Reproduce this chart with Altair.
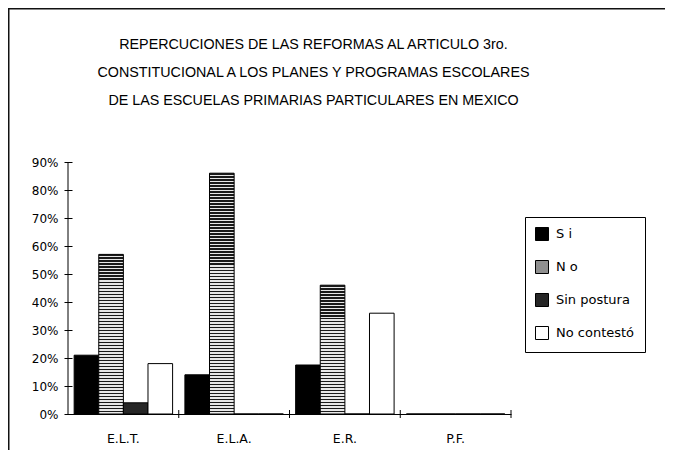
import altair as alt
import pandas as pd

categories = ["E.L.T.", "E.L.A.", "E.R.", "P.F."]
series = ["S i", "N o", "Sin postura", "No contestó"]
si = [21, 14, 17.5, 0]
no = [57, 86, 46, 0]
sin_postura = [4, 0, 0, 0]
no_contesto = [18, 0, 36, 0]
y_ticks = [0, 10, 20, 30, 40, 50, 60, 70, 80, 90]
title_lines = [
    "REPERCUCIONES DE LAS REFORMAS AL ARTICULO 3ro.",
    "CONSTITUCIONAL A LOS PLANES Y PROGRAMAS ESCOLARES",
    "DE LAS ESCUELAS PRIMARIAS PARTICULARES EN MEXICO",
]

rows = []
for s, vals in zip(series, [si, no, sin_postura, no_contesto]):
    for c, v in zip(categories, vals):
        rows.append({"cat": c, "serie": s, "valor": v})
df = pd.DataFrame(rows)
cats_df = pd.DataFrame({"cat": categories})

W, H = 443, 252
PL, PT = 60, 154
FONT = "DejaVu Sans"


def stripes(n, dark="#1a1a1a", light="#e8e8e8", frac=0.45):
    stops = []
    p = 1.0 / n
    for i in range(n):
        a = i * p
        b = a + frac * p
        stops += [
            {"offset": round(a, 5), "color": dark},
            {"offset": round(b, 5), "color": dark},
            {"offset": round(b, 5), "color": light},
            {"offset": round(a + p, 5), "color": light},
        ]
    return {"gradient": "linear", "x1": 0, "y1": 0, "x2": 0, "y2": 1, "stops": stops}


conditions = []
for c, v in zip(categories, no):
    if v > 0:
        n = max(3, int(round(v * (H / 90.0) / 3.0)))
        conditions.append({"test": f"datum.serie == 'N o' && datum.cat == '{c}'", "value": stripes(n)})

yscale = alt.Scale(domain=[0, 90], nice=False)
xscale = alt.Scale(domain=categories, paddingInner=0, paddingOuter=0)

x_axis = alt.Axis(title=None, ticks=False, domain=True, domainColor="#000",
                  labelAngle=0, labelFont=FONT, labelFontSize=12.5, labelColor="#000",
                  labelPadding=18)
y_axis = alt.Axis(title=None, values=y_ticks, domain=False, tickSize=8, offset=-4,
                  tickColor="#000", labelExpr="datum.value + '%'", labelOverlap=False,
                  labelFont=FONT, labelFontSize=12, labelColor="#000",
                  labelPadding=6, grid=False)

one = "datum.cat == 'E.L.T.'"

border_left = alt.Chart(cats_df).mark_rule(color="#111", strokeWidth=1.5).encode(
    x=alt.value(-59.25), y=alt.value(-154), y2=alt.value(400)
).transform_filter(one)
border_top = alt.Chart(cats_df).mark_rule(color="#111", strokeWidth=1.5).encode(
    x=alt.value(-60), x2=alt.value(650), y=alt.value(-153.25)
).transform_filter(one)

title = alt.Chart(cats_df).mark_text(
    font="Liberation Sans", fontSize=14.3, color="#000", lineHeight=28,
    align="center", baseline="middle"
).encode(
    x=alt.value(W / 2 + 24), y=alt.value(-117), text=alt.value(title_lines)
).transform_filter(one)

fill_enc = {
    "condition": conditions,
    "field": "serie",
    "type": "nominal",
    "scale": {"domain": series, "range": ["#000000", "#8f8f8f", "#262626", "#ffffff"]},
    "legend": {
        "title": None,
        "orient": "none",
        "legendX": 457,
        "legendY": 55,
        "symbolType": "square",
        "symbolSize": 169,
        "symbolStrokeColor": "#000",
        "symbolStrokeWidth": 1,
        "labelFont": FONT,
        "labelFontSize": 13,
        "labelColor": "#000",
        "labelOffset": 7,
        "rowPadding": 15,
        "padding": 10,
        "strokeColor": "#000",
        "fillColor": "#fff",
    },
}

bars = alt.Chart(df).mark_bar(stroke="#000", strokeWidth=1).encode(
    x=alt.X("cat:N", scale=xscale, sort=categories, axis=x_axis),
    xOffset=alt.XOffset("serie:N", sort=series,
                        scale=alt.Scale(domain=series, paddingInner=0, paddingOuter=0.25)),
    y=alt.Y("valor:Q", scale=yscale, axis=y_axis),
    fill=fill_enc,
)

xticks = alt.Chart(cats_df).mark_rule(color="#000", strokeWidth=1).encode(
    x=alt.X("cat:N", bandPosition=1, scale=xscale, sort=categories, axis=x_axis),
    y=alt.value(H - 4), y2=alt.value(H + 4),
)

ydomain = alt.Chart(cats_df).mark_rule(color="#000", strokeWidth=1).encode(
    x=alt.value(0), y=alt.datum(0, scale=yscale, axis=y_axis), y2=alt.datum(90)
).transform_filter(one)

chart = alt.layer(border_left, border_top, title, bars, xticks, ydomain).properties(
    width=W, height=H,
    autosize=alt.AutoSizeParams(type="none"),
    padding={"left": PL, "top": PT, "right": 657 - PL - W, "bottom": 36},
).configure_view(stroke=None)

chart.save("out.html", embed_options={"renderer": "svg", "actions": False})
